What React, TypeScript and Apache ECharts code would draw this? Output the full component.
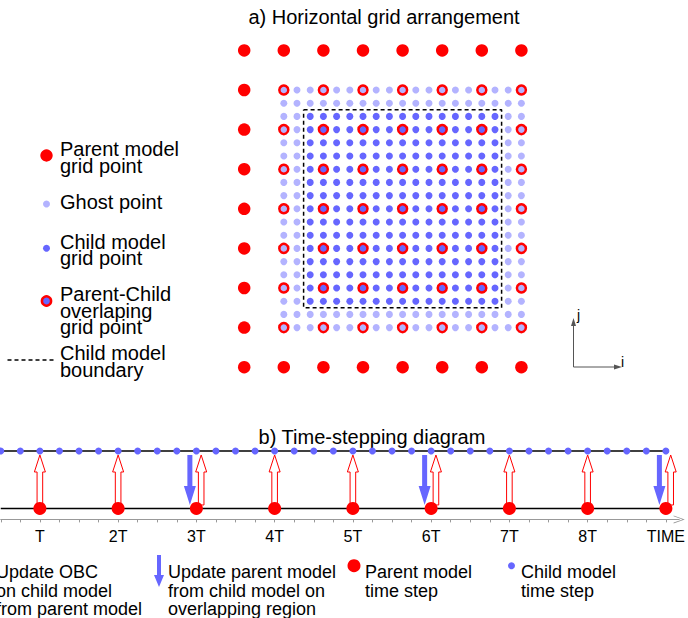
import React, { useEffect, useRef } from "react";
import * as echarts from "echarts";

const FONT = '"Liberation Sans", Arial, Helvetica, sans-serif';
const RED = "#ff0000";
const GHOST = "#b3b3ff";
const CHILD = "#6666ff";

// ---------- Panel a: horizontal grid arrangement ----------
const parentCols = [0, 1, 2, 3, 4, 5, 6, 7];
const parentRows = [0, 1, 2, 3, 4, 5, 6, 7, 8];
const nestedParentCols = [1, 2, 3, 4, 5, 6, 7];
const nestedParentRows = [1, 2, 3, 4, 5, 6, 7];
const refineRatio = 3;
const childCols = [0, 1, 2, 3, 4, 5, 6, 7, 8, 9, 10, 11, 12, 13, 14, 15, 16, 17, 18];
const childRows = [0, 1, 2, 3, 4, 5, 6, 7, 8, 9, 10, 11, 12, 13, 14, 15, 16, 17, 18];
const ghostLayers = [0, 1, 17, 18];
const boundaryEdges = [1.5, 16.5];

// ---------- Panel b: time stepping ----------
const childSteps = [
  0.5, 0.75, 1, 1.25, 1.5, 1.75, 2, 2.25, 2.5, 2.75, 3, 3.25, 3.5, 3.75, 4, 4.25, 4.5,
  4.75, 5, 5.25, 5.5, 5.75, 6, 6.25, 6.5, 6.75, 7, 7.25, 7.5, 7.75, 8, 8.25, 8.5, 8.75, 9,
];
const parentSteps = [1, 2, 3, 4, 5, 6, 7, 8, 9];
const stepLabels = ["T", "2T", "3T", "4T", "5T", "6T", "7T", "8T", "TIME"];
const feedbackSteps = [3, 6, 9];
const lineStart = 0.5;
const lineEnd = 9;

function buildOption() {
  const toChild = (p: number) => refineRatio * (p - nestedParentCols[0]);
  const isGhost = (c: number, r: number) =>
    ghostLayers.includes(c) || ghostLayers.includes(r);

  const ghostPts: number[][] = [];
  const childPts: number[][] = [];
  childCols.forEach((c) =>
    childRows.forEach((r) => {
      (isGhost(c, r) ? ghostPts : childPts).push([c, r]);
    })
  );

  const parentPts: number[][] = [];
  const overlapPts: any[] = [];
  parentCols.forEach((i) =>
    parentRows.forEach((j) => {
      const c = toChild(i);
      const r = toChild(j);
      if (nestedParentCols.includes(i) && nestedParentRows.includes(j)) {
        overlapPts.push({
          value: [c, r],
          itemStyle: { color: isGhost(c, r) ? GHOST : CHILD },
        });
      } else {
        parentPts.push([c, r]);
      }
    })
  );

  const [b0, b1] = boundaryEdges;
  const boundary = [
    [b0, b0],
    [b1, b0],
    [b1, b1],
    [b0, b1],
    [b0, b0],
  ];

  const text = (x: number, y: number, t: string, size: number, align = "left") => ({
    type: "text",
    x,
    y,
    style: {
      text: t,
      fill: "#000",
      fontSize: size,
      fontFamily: FONT,
      textAlign: align,
      textVerticalAlign: "middle",
    },
  });
  const lines = (x: number, y0: number, step: number, arr: string[], size: number) =>
    arr.map((t, k) => text(x, y0 + k * step, t, size));

  const graphics: any[] = [
    text(384, 17, "a) Horizontal grid arrangement", 20, "center"),
    text(372, 437, "b) Time-stepping diagram", 20, "center"),
    // legend a
    { type: "circle", shape: { cx: 46.5, cy: 155.5, r: 6.2 }, style: { fill: RED } },
    ...lines(60, 149, 16.6, ["Parent model", "grid point"], 20),
    { type: "circle", shape: { cx: 46.5, cy: 204, r: 3.5 }, style: { fill: GHOST } },
    ...lines(60, 201.5, 16.6, ["Ghost point"], 20),
    { type: "circle", shape: { cx: 46.5, cy: 248.3, r: 3.5 }, style: { fill: CHILD } },
    ...lines(60, 241.6, 16.6, ["Child model", "grid point"], 20),
    {
      type: "circle",
      shape: { cx: 46.5, cy: 301, r: 4.6 },
      style: { fill: CHILD, stroke: RED, lineWidth: 2.5 },
    },
    ...lines(60, 294, 16.6, ["Parent-Child", "overlaping", "grid point"], 20),
    {
      type: "line",
      shape: { x1: 7.5, y1: 360, x2: 53.5, y2: 360 },
      style: { stroke: "#000", lineWidth: 1.5, lineDash: [4, 3] },
    },
    ...lines(60, 353, 16.6, ["Child model", "boundary"], 20),
    // i-j axes
    { type: "line", shape: { x1: 573.5, y1: 367, x2: 573.5, y2: 323 }, style: { stroke: "#555", lineWidth: 1 } },
    { type: "polygon", shape: { points: [[573.5, 318], [571, 326], [576, 326]] }, style: { fill: "#555" } },
    { type: "line", shape: { x1: 573.5, y1: 367, x2: 616, y2: 367 }, style: { stroke: "#555", lineWidth: 1 } },
    { type: "polygon", shape: { points: [[622, 367], [614, 364.5], [614, 369.5]] }, style: { fill: "#555" } },
    text(577, 315, "j", 14),
    text(621, 361.5, "i", 14),
    // legend b
    ...lines(-4, 572, 18.7, ["Update OBC", "on child model", "from parent model"], 18),
    {
      type: "polygon",
      shape: {
        points: [
          [157, 555],
          [161, 555],
          [161, 575],
          [164, 575],
          [159, 587],
          [154, 575],
          [157, 575],
        ],
      },
      style: { fill: CHILD },
    },
    ...lines(168, 572, 18.7, ["Update parent model", "from child model on", "overlapping region"], 18),
    { type: "circle", shape: { cx: 354, cy: 565.7, r: 6.5 }, style: { fill: RED } },
    ...lines(365, 572, 18.7, ["Parent model", "time step"], 18),
    { type: "circle", shape: { cx: 511.5, cy: 565.7, r: 3.5 }, style: { fill: CHILD } },
    ...lines(521, 572, 18.7, ["Child model", "time step"], 18),
  ];

  const redArrow = (params: any, api: any) => {
    const t = api.value(0);
    const lo = api.coord([t, 0]);
    const hi = api.coord([t, 1]);
    const shifted = feedbackSteps.includes(t);
    const cx = lo[0] + (shifted ? 4.8 : 0);
    const top = hi[1] + 4;
    const bot = lo[1] - (shifted ? 3.5 : 5);
    const hb = top + 17;
    return {
      type: "polygon",
      shape: {
        points: [
          [cx, top],
          [cx + 5.5, hb],
          [cx + 2.8, hb],
          [cx + 2.8, bot],
          [cx - 2.8, bot],
          [cx - 2.8, hb],
          [cx - 5.5, hb],
        ],
      },
      style: { fill: "#fff", stroke: RED, lineWidth: 1 },
    };
  };

  const blueArrow = (params: any, api: any) => {
    const t = api.value(0);
    const lo = api.coord([t, 0]);
    const hi = api.coord([t, 1]);
    const cx = lo[0] - 6.5;
    const top = hi[1] + 4;
    const tip = lo[1] - 3.5;
    const hb = tip - 19;
    return {
      type: "polygon",
      shape: {
        points: [
          [cx - 2.5, top],
          [cx + 2.5, top],
          [cx + 2.5, hb],
          [cx + 6, hb],
          [cx, tip],
          [cx - 6, hb],
          [cx - 2.5, hb],
        ],
      },
      style: { fill: CHILD },
    };
  };

  return {
    animation: false,
    backgroundColor: "#fff",
    textStyle: { fontFamily: FONT },
    grid: [
      { left: 224.4, top: 30.6, width: 316.8, height: 356.4 },
      { left: 0.75, top: 439.5, width: 680.6, height: 79.9 },
    ],
    xAxis: [
      { gridIndex: 0, type: "value", min: -4.5, max: 19.5, show: false },
      {
        gridIndex: 1,
        type: "value",
        min: lineStart,
        max: 9.17,
        axisLine: {
          show: true,
          onZero: false,
          lineStyle: { color: "#999", width: 1 },
          symbol: ["none", "path://M0,14 L5,0 L10,14 L9,14 L5,2.8 L1,14 Z"],
          symbolSize: [8, 14],
        },
        axisTick: {
          show: true,
          customValues: childSteps,
          length: 3,
          lineStyle: { color: "#999" },
        },
        axisLabel: {
          show: true,
          customValues: parentSteps,
          formatter: (v: number) => stepLabels[parentSteps.indexOf(v)] ?? "",
          color: "#000",
          fontSize: 16,
          fontFamily: FONT,
          margin: 9,
        },
        splitLine: { show: false },
      },
    ],
    yAxis: [
      { gridIndex: 0, type: "value", min: -4.5, max: 22.5, inverse: true, show: false },
      { gridIndex: 1, type: "value", min: -0.19, max: 1.2, show: false },
    ],
    graphic: graphics,
    series: [
      {
        type: "line",
        xAxisIndex: 0,
        yAxisIndex: 0,
        data: boundary,
        symbol: "none",
        lineStyle: { color: "#000", width: 1.5, type: [4, 3] },
        z: 1,
      },
      {
        type: "scatter",
        xAxisIndex: 0,
        yAxisIndex: 0,
        data: ghostPts,
        symbolSize: 7,
        itemStyle: { color: GHOST, opacity: 1 },
        z: 2,
      },
      {
        type: "scatter",
        xAxisIndex: 0,
        yAxisIndex: 0,
        data: childPts,
        symbolSize: 7,
        itemStyle: { color: CHILD, opacity: 1 },
        z: 2,
      },
      {
        type: "scatter",
        xAxisIndex: 0,
        yAxisIndex: 0,
        data: overlapPts,
        symbolSize: 9,
        itemStyle: { borderColor: RED, borderWidth: 2.5, opacity: 1 },
        z: 3,
      },
      {
        type: "scatter",
        xAxisIndex: 0,
        yAxisIndex: 0,
        data: parentPts,
        symbolSize: 12.5,
        itemStyle: { color: RED, opacity: 1 },
        z: 3,
      },
      {
        type: "line",
        xAxisIndex: 1,
        yAxisIndex: 1,
        data: [
          [lineStart, 1],
          [lineEnd, 1],
        ],
        symbol: "none",
        lineStyle: { color: "#000", width: 1.3 },
        z: 1,
      },
      {
        type: "line",
        xAxisIndex: 1,
        yAxisIndex: 1,
        data: [
          [lineStart, 0],
          [lineEnd, 0],
        ],
        symbol: "none",
        lineStyle: { color: "#000", width: 1.3 },
        z: 1,
      },
      {
        type: "custom",
        xAxisIndex: 1,
        yAxisIndex: 1,
        data: parentSteps.map((t) => [t, 0]),
        renderItem: redArrow,
        clip: false,
        z: 2,
      },
      {
        type: "custom",
        xAxisIndex: 1,
        yAxisIndex: 1,
        data: feedbackSteps.map((t) => [t, 0]),
        renderItem: blueArrow,
        clip: false,
        z: 2,
      },
      {
        type: "scatter",
        xAxisIndex: 1,
        yAxisIndex: 1,
        data: childSteps.map((t) => [t, 1]),
        symbolSize: 7,
        itemStyle: { color: CHILD, opacity: 1 },
        z: 3,
      },
      {
        type: "scatter",
        xAxisIndex: 1,
        yAxisIndex: 1,
        data: parentSteps.map((t) => [t, 0]),
        symbolSize: 13,
        itemStyle: { color: RED, opacity: 1 },
        z: 4,
      },
    ],
  };
}

export default function App() {
  const ref = useRef<HTMLDivElement>(null);
  useEffect(() => {
    if (!ref.current) return;
    const chart = echarts.init(ref.current, undefined, { renderer: "svg" });
    chart.setOption(buildOption() as any);
    return () => chart.dispose();
  }, []);
  return (
    <div
      ref={ref}
      style={{ position: "absolute", left: 0, top: 0, width: 688, height: 618, background: "#fff" }}
    />
  );
}
